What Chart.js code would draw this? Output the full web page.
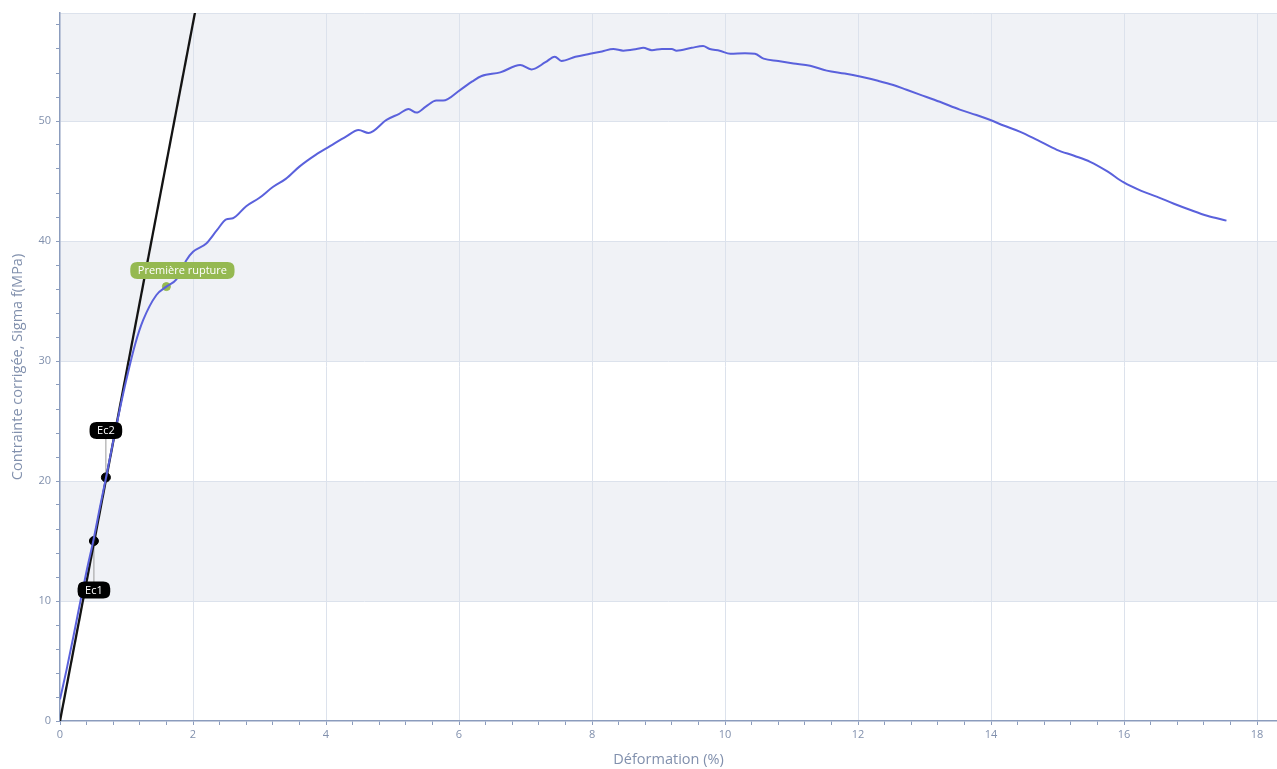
<!DOCTYPE html>
<html>
<head>
<meta charset="utf-8">
<script src="https://cdn.jsdelivr.net/npm/chart.js@4/dist/chart.umd.min.js"></script>
<style>
    html, body { margin: 0; padding: 0; background: #ffffff; }
    #wrap { width: 1277px; height: 769px; }
</style>
</head>
<body>
<div id="wrap"><canvas id="chart"></canvas></div>
<script>
// courbe contrainte / deformation
const strainX = [0, 0.1, 0.2, 0.3, 0.4, 0.5, 0.6, 0.7, 0.8, 0.9, 1.0, 1.13, 1.25, 1.45, 1.6, 1.75, 1.9, 2.0,
    2.2, 2.36, 2.5, 2.6, 2.8, 3.0, 3.2, 3.4, 3.6, 3.85, 4.06, 4.3, 4.49, 4.64, 4.91, 5.1, 5.24, 5.36, 5.5,
    5.66, 5.76, 6.02, 6.2, 6.34, 6.62, 6.92, 7.09, 7.3, 7.44, 7.54, 7.75, 7.97, 8.15, 8.32, 8.47, 8.67, 8.77,
    8.9, 9.05, 9.2, 9.27, 9.5, 9.67, 9.77, 9.92, 10.08, 10.3, 10.45, 10.58, 10.8, 11.03, 11.28, 11.53, 11.8,
    12.03, 12.3, 12.53, 12.73, 12.93, 13.23, 13.53, 13.78, 13.98, 14.2, 14.44, 14.7, 14.99, 15.25, 15.49,
    15.75, 15.99, 16.25, 16.49, 16.75, 16.99, 17.25, 17.54];
const stressY = [1.8, 4.3, 7.0, 9.8, 12.5, 15.0, 17.8, 20.5, 23.3, 26.0, 28.5, 31.4, 33.4, 35.5, 36.2, 36.8, 38.4, 39.1,
    39.8, 40.9, 41.8, 41.9, 42.9, 43.6, 44.5, 45.2, 46.2, 47.2, 47.9, 48.7, 49.25, 49.0, 50.1, 50.6, 51.0, 50.7, 51.2,
    51.7, 51.7, 52.6, 53.3, 53.75, 54.05, 54.67, 54.3, 54.9, 55.36, 55.0, 55.35, 55.6, 55.8, 56.0, 55.86, 56.0, 56.1,
    55.9, 56.0, 56.0, 55.86, 56.1, 56.25, 56.0, 55.86, 55.6, 55.65, 55.6, 55.2, 55.0, 54.8, 54.6, 54.2, 53.95,
    53.7, 53.35, 53.0, 52.6, 52.2, 51.6, 50.95, 50.5, 50.1, 49.6, 49.1, 48.4, 47.6, 47.1, 46.6,
    45.8, 44.9, 44.2, 43.7, 43.1, 42.6, 42.1, 41.7];

// droite du module (Ec)
const slopeX = [0, 2.08];
const slopeY = [0, 60.5];

// points Ec1 / Ec2
const ecX = [0.51, 0.69];
const ecY = [15.0, 20.3];
const ecLabels = ["Ec1", "Ec2"];

// premiere rupture
const ruptureX = [1.6];
const ruptureY = [36.2];
const ruptureLabels = ["Première rupture"];

// axes
const xMin = 0, xMax = 18.3, xStep = 0.4, xMajor = 2;
const yMin = 0, yMax = 59, yStep = 2, yMajor = 10;
const shadedBands = [[10, 20], [30, 40], [50, 59]];

const axisColor = "#8b9cbd";
const gridColor = "#dce2ec";
const bandColor = "#f0f2f6";
const textColor = "#8190ad";

function toPoints(xs, ys) {
    return xs.map((x, i) => ({ x: x, y: ys[i] }));
}

function isMultiple(v, step) {
    const r = v / step;
    return Math.abs(r - Math.round(r)) < 1e-6;
}

const bandsPlugin = {
    id: "bands",
    beforeDraw(chart) {
        const ctx = chart.ctx;
        const area = chart.chartArea;
        const y = chart.scales.y;
        ctx.save();
        ctx.fillStyle = bandColor;
        shadedBands.forEach(b => {
            const top = y.getPixelForValue(b[1]);
            const bottom = y.getPixelForValue(b[0]);
            ctx.fillRect(area.left, top, area.right - area.left, bottom - top);
        });
        // ligne du haut
        ctx.strokeStyle = gridColor;
        ctx.lineWidth = 1;
        ctx.beginPath();
        ctx.moveTo(area.left, area.top + 0.5);
        ctx.lineTo(area.right, area.top + 0.5);
        ctx.stroke();
        ctx.restore();
    }
};

function roundRect(ctx, x, y, w, h, r) {
    ctx.beginPath();
    ctx.moveTo(x + r, y);
    ctx.lineTo(x + w - r, y);
    ctx.quadraticCurveTo(x + w, y, x + w, y + r);
    ctx.lineTo(x + w, y + h - r);
    ctx.quadraticCurveTo(x + w, y + h, x + w - r, y + h);
    ctx.lineTo(x + r, y + h);
    ctx.quadraticCurveTo(x, y + h, x, y + h - r);
    ctx.lineTo(x, y + r);
    ctx.quadraticCurveTo(x, y, x + r, y);
    ctx.closePath();
}

function drawTag(ctx, text, cx, cy, fill) {
    ctx.font = "11px 'Open Sans'";
    const w = ctx.measureText(text).width + 15;
    const h = 17;
    roundRect(ctx, cx - w / 2, cy - h / 2, w, h, 7);
    ctx.fillStyle = fill;
    ctx.fill();
    ctx.fillStyle = "#ffffff";
    ctx.textAlign = "center";
    ctx.textBaseline = "middle";
    ctx.fillText(text, cx, cy + 0.5);
}

// decalage des etiquettes en pixels
const ecOffsets = [49, -47];

const labelsPlugin = {
    id: "tags",
    beforeDatasetsDraw(chart) {
        const ctx = chart.ctx;
        const xs = chart.scales.x, ys = chart.scales.y;
        ctx.save();
        ctx.strokeStyle = "#9a9a9a";
        ctx.lineWidth = 1;
        ecX.forEach((v, i) => {
            const px = xs.getPixelForValue(v);
            const py = ys.getPixelForValue(ecY[i]);
            ctx.beginPath();
            ctx.moveTo(px, py);
            ctx.lineTo(px, py + ecOffsets[i]);
            ctx.stroke();
        });
        ctx.restore();
    },
    afterDatasetsDraw(chart) {
        const ctx = chart.ctx;
        const xs = chart.scales.x, ys = chart.scales.y;
        ctx.save();
        ecX.forEach((v, i) => {
            const px = xs.getPixelForValue(v);
            const py = ys.getPixelForValue(ecY[i]);
            drawTag(ctx, ecLabels[i], px, py + ecOffsets[i], "#000000");
        });
        ruptureX.forEach((v, i) => {
            const px = xs.getPixelForValue(v);
            const py = ys.getPixelForValue(ruptureY[i]);
            drawTag(ctx, ruptureLabels[i], px + 16, py - 16, "#95b951");
        });
        ctx.restore();
    }
};

new Chart(document.getElementById("chart"), {
    type: "scatter",
    data: {
        datasets: [
            {
                data: toPoints(strainX, stressY),
                showLine: true,
                borderColor: "#5a61dc",
                borderWidth: 2,
                pointRadius: 0,
                cubicInterpolationMode: "monotone"
            },
            {
                data: toPoints(slopeX, slopeY),
                showLine: true,
                borderColor: "#141414",
                borderWidth: 2.3,
                pointRadius: 0
            },
            {
                data: toPoints(slopeX, slopeY),
                showLine: true,
                borderColor: "rgba(150,150,150,0.9)",
                borderWidth: 0.9,
                borderDash: [3, 3],
                pointRadius: 0
            },
            {
                data: toPoints(ecX, ecY),
                pointRadius: 4.5,
                pointBackgroundColor: "#000000",
                pointBorderColor: "#000000"
            },
            {
                data: toPoints(ruptureX, ruptureY),
                pointRadius: 4,
                pointBackgroundColor: "#95b951",
                pointBorderColor: "#95b951"
            }
        ]
    },
    options: {
        responsive: true,
        maintainAspectRatio: false,
        animation: false,
        layout: { autoPadding: false, padding: { top: 13, right: 0, left: 0, bottom: 0 } },
        plugins: {
            legend: { display: false },
            tooltip: { enabled: false }
        },
        scales: {
            x: {
                type: "linear",
                min: xMin,
                max: xMax,
                afterFit: s => { s.height = 48; s.paddingRight = 0; },
                border: { color: axisColor, width: 1.5 },
                grid: {
                    color: c => (c.tick && isMultiple(c.tick.value, xMajor) && c.tick.value > 0) ? gridColor : "transparent",
                    tickColor: axisColor,
                    tickLength: 4,
                    lineWidth: 1
                },
                ticks: {
                    stepSize: xStep,
                    includeBounds: false,
                    autoSkip: false,
                    maxRotation: 0,
                    padding: 3,
                    color: textColor,
                    font: { family: "'Open Sans'", size: 11 },
                    callback: v => isMultiple(v, xMajor) ? String(Math.round(v)) : ""
                },
                title: {
                    display: true,
                    text: "Déformation (%)",
                    color: textColor,
                    font: { family: "'Open Sans'", size: 14.5 },
                    padding: { top: 0, bottom: 0 }
                }
            },
            y: {
                type: "linear",
                min: yMin,
                max: yMax,
                afterFit: s => { s.width = 60; },
                border: { color: axisColor, width: 1.5 },
                grid: {
                    color: c => (c.tick && isMultiple(c.tick.value, yMajor) && c.tick.value > 0) ? gridColor : "transparent",
                    tickColor: axisColor,
                    tickLength: 4,
                    lineWidth: 1
                },
                ticks: {
                    stepSize: yStep,
                    includeBounds: false,
                    autoSkip: false,
                    padding: 5,
                    color: textColor,
                    font: { family: "'Open Sans'", size: 11 },
                    callback: v => isMultiple(v, yMajor) ? String(Math.round(v)) : ""
                },
                title: {
                    display: true,
                    text: "Contrainte corrigée, Sigma f(MPa)",
                    color: textColor,
                    font: { family: "'Open Sans'", size: 14.5 },
                    padding: { top: 9, bottom: 0 }
                }
            }
        }
    },
    plugins: [bandsPlugin, labelsPlugin]
});
</script>
</body>
</html>
